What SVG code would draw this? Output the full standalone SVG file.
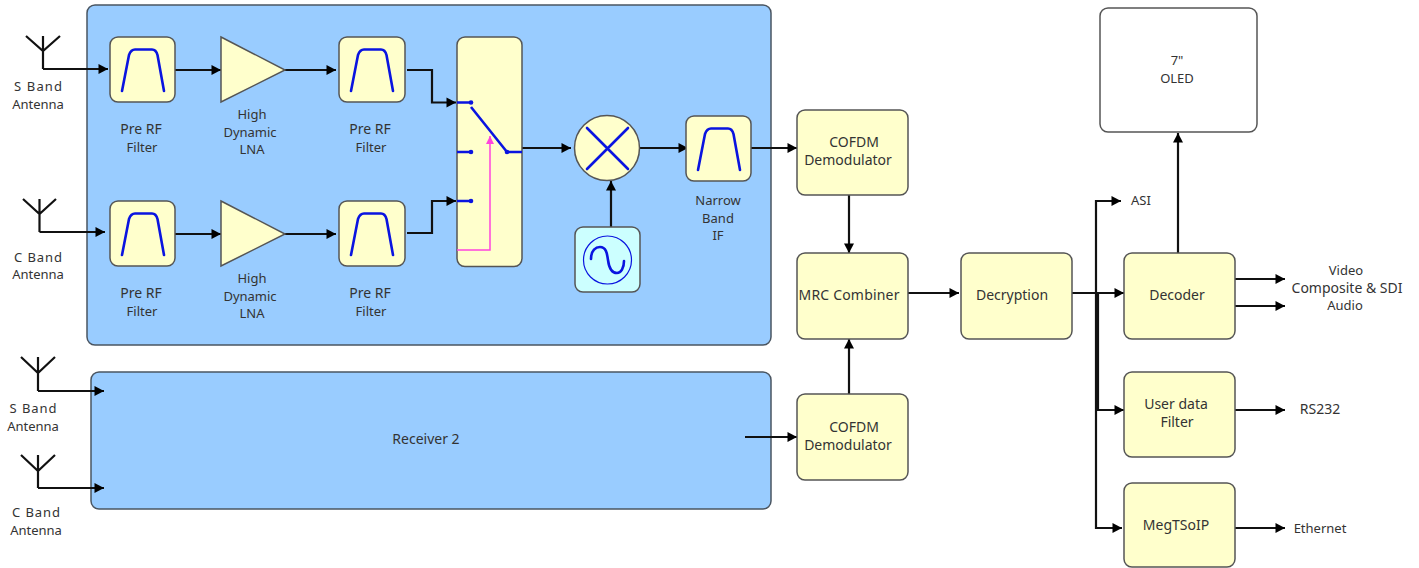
<svg xmlns="http://www.w3.org/2000/svg" width="1419" height="568" viewBox="0 0 1419 568">
<style>
.panel{fill:#99ccff;stroke:#4a5561;stroke-width:1.5}
.box{fill:#ffffcc;stroke:#555;stroke-width:1.5}
.osc{fill:#ccffff;stroke:#555;stroke-width:1.5}
.glyph{fill:none;stroke:#0a14e0;stroke-width:2.6;stroke-linecap:round;stroke-linejoin:round}
.thin{fill:none;stroke:#0a14e0;stroke-width:1.2}
.dot{fill:#0a14e0}
.wire{fill:none;stroke:#111;stroke-width:2.2;stroke-linejoin:miter}
.arr{marker-end:url(#ah)}
.pink{fill:none;stroke:#ff44dd;stroke-width:1.5;marker-end:url(#ap)}
text{font-family:"Noto Sans","DejaVu Sans",sans-serif;font-size:13px;fill:#333;text-anchor:middle}
text.l{font-size:14px}
</style>
<defs>
<marker id="ah" markerUnits="userSpaceOnUse" markerWidth="12" markerHeight="12" refX="10" refY="6" orient="auto"><path d="M0.500 1L10 6L0.500 11Z" fill="#000"/></marker>
<marker id="ap" markerUnits="userSpaceOnUse" markerWidth="10" markerHeight="10" refX="8" refY="4" orient="auto"><path d="M0 0L8 4L0 8Z" fill="#ff44dd"/></marker>
<path id="bp" class="glyph" d="M12 54L19 18Q21 12.500 25 12.500L42 12.500Q46 12.500 47.500 18L54 54"/>
</defs>
<g id="panel-1"><rect class="panel" x="87" y="5" width="684" height="340" rx="8"/></g>
<g id="panel-2"><rect class="panel" x="91" y="372" width="680" height="137" rx="8"/><text class="l" x="426" y="444">Receiver 2</text></g>

<g id="connectors">
<path class="wire arr" d="M43 69H108"/>
<path class="wire arr" d="M39.500 232H105"/>
<path class="wire arr" d="M38 391H104"/>
<path class="wire arr" d="M38 488H104"/>
<path class="wire arr" d="M175 70H221"/>
<path class="wire arr" d="M175 234H221"/>
<path class="wire arr" d="M285 70H336"/>
<path class="wire arr" d="M285 234H336"/>
<path class="wire arr" d="M407 70H432V102.500H456"/>
<path class="wire arr" d="M407 233H432V201H456"/>
<path class="wire arr" d="M522 148H571"/>
<path class="wire arr" d="M640 148H688"/>
<path class="wire arr" d="M611 227V181"/>
<path class="wire arr" d="M751 148H797"/>
<path class="wire arr" d="M849 195V253"/>
<path class="wire arr" d="M849 394V339"/>
<path class="wire arr" d="M745 437H797"/>
<path class="wire arr" d="M908 293H959"/>
<path class="wire arr" d="M1072 293H1124"/>
<path class="wire arr" d="M1096 293V201H1121"/>
<path class="wire arr" d="M1098 293V410H1124"/>
<path class="wire arr" d="M1096 293V528H1122"/>
<path class="wire arr" d="M1178 253V133"/>
<path class="wire arr" d="M1235 279H1285"/>
<path class="wire arr" d="M1235 306H1285"/>
<path class="wire arr" d="M1235 410H1285"/>
<path class="wire arr" d="M1235 528H1285"/>
</g>

<g id="ant-s1"><path class="wire" d="M26 36L43 51L60 36M43 36V69"/><text x="38" y="91" textLength="48">S Band</text><text x="38" y="109">Antenna</text></g>
<g id="ant-c1"><path class="wire" d="M23 199L39.500 214L56 199M39.500 199V232"/><text x="38" y="262" textLength="48">C Band</text><text x="38" y="279">Antenna</text></g>
<g id="ant-s2"><path class="wire" d="M21 357L38 373L55 357M38 357V391"/><text x="33" y="413" textLength="47">S Band</text><text x="33" y="431">Antenna</text></g>
<g id="ant-c2"><path class="wire" d="M21 455L38 471L55 455M38 455V488"/><text x="36" y="517" textLength="48">C Band</text><text x="36" y="535">Antenna</text></g>

<g id="filter-1"><rect class="box" x="110" y="37" width="65" height="65" rx="8"/><use href="#bp" x="110" y="37"/><text class="l" x="141" y="134">Pre RF</text><text x="142" y="152">Filter</text></g>
<g id="lna-1"><path class="box" d="M221 37L285 70L221 102Z"/><text x="252" y="119">High</text><text x="250" y="137">Dynamic</text><text x="252" y="154">LNA</text></g>
<g id="filter-2"><rect class="box" x="339" y="37" width="66" height="65" rx="8"/><use href="#bp" x="339" y="37"/><text class="l" x="370" y="134">Pre RF</text><text x="371" y="152">Filter</text></g>
<g id="filter-3"><rect class="box" x="110" y="201" width="65" height="65" rx="8"/><use href="#bp" x="110" y="201"/><text class="l" x="141" y="298">Pre RF</text><text x="142" y="316">Filter</text></g>
<g id="lna-2"><path class="box" d="M221 201L285 234L221 266Z"/><text x="252" y="283">High</text><text x="250" y="301">Dynamic</text><text x="252" y="318">LNA</text></g>
<g id="filter-4"><rect class="box" x="339" y="201" width="66" height="65" rx="8"/><use href="#bp" x="339" y="201"/><text class="l" x="370" y="298">Pre RF</text><text x="371" y="316">Filter</text></g>

<g id="switch"><rect class="box" x="457" y="37" width="65" height="229.500" rx="8"/>
<path class="glyph" d="M457 102.500H471M457 152H471M457 201H471M471 107L507 152H522" style="stroke-linecap:butt"/>
<circle class="dot" cx="471" cy="102.500" r="2.300"/><circle class="dot" cx="471" cy="152" r="2.300"/><circle class="dot" cx="471" cy="201" r="2.300"/><circle class="dot" cx="507" cy="152" r="2.300"/>
<path class="pink" d="M457 250H490V136"/></g>
<g id="mixer"><circle class="box" cx="607" cy="148" r="32.500"/><path class="glyph" d="M587 128L628 169M628 128L587 169"/></g>
<g id="oscillator"><rect class="osc" x="575" y="227" width="65" height="65" rx="8"/><circle class="thin" cx="607.500" cy="260" r="24"/><path class="glyph" d="M591 259C591 250 596 247 600 247C606 247 607 253 608 260C609 268 612 273 617 273C621 273 624 268 624 261"/></g>
<g id="narrow-filter"><rect class="box" x="686" y="116" width="65" height="65" rx="8"/><use href="#bp" x="686" y="116"/><text x="718" y="205">Narrow</text><text x="718" y="223">Band</text><text x="718" y="240">IF</text></g>

<g id="cofdm-1"><rect class="box" x="797" y="110" width="111" height="85" rx="8"/><text class="l" x="854" y="147">COFDM</text><text class="l" x="848" y="165">Demodulator</text></g>
<g id="mrc"><rect class="box" x="797" y="253" width="111" height="86" rx="8"/><text class="l" x="849" y="300" textLength="101">MRC Combiner</text></g>
<g id="cofdm-2"><rect class="box" x="797" y="394" width="111" height="86" rx="8"/><text class="l" x="854" y="432">COFDM</text><text class="l" x="848" y="450">Demodulator</text></g>
<g id="decryption"><rect class="box" x="961" y="253" width="111" height="86" rx="8"/><text class="l" x="1012" y="300">Decryption</text></g>
<g id="decoder"><rect class="box" x="1124" y="253" width="111" height="86" rx="8"/><text class="l" x="1177" y="300">Decoder</text></g>
<g id="user-data"><rect class="box" x="1124" y="372" width="111" height="85" rx="8"/><text class="l" x="1176" y="409">User data</text><text class="l" x="1177" y="427">Filter</text></g>
<g id="megtsoip"><rect class="box" x="1124" y="483" width="111" height="84" rx="8"/><text class="l" x="1176" y="530">MegTSoIP</text></g>
<g id="oled"><rect x="1100" y="8" width="157" height="124" rx="8" fill="#fff" stroke="#555" stroke-width="1.500"/><text x="1177" y="65">7"</text><text x="1177" y="83">OLED</text></g>

<g id="labels">
<text x="1141" y="205">ASI</text>
<text x="1346" y="275">Video</text>
<text class="l" x="1347" y="293">Composite &amp; SDI</text>
<text x="1345" y="310">Audio</text>
<text class="l" x="1320" y="414">RS232</text>
<text x="1320" y="533">Ethernet</text>
</g>
</svg>
